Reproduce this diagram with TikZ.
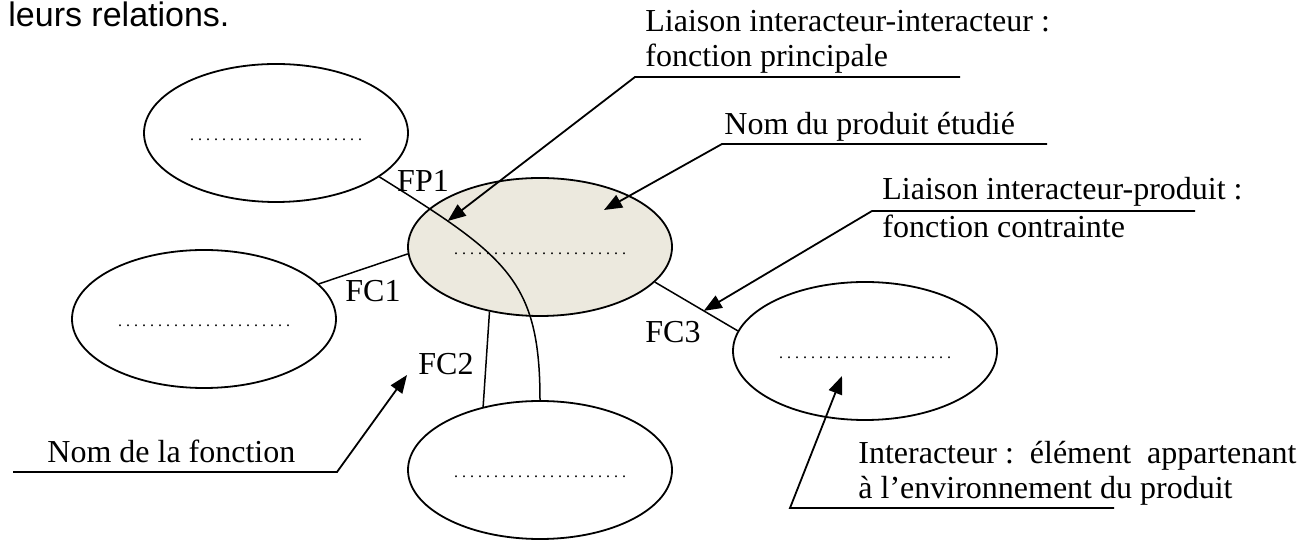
\documentclass[tikz,border=0pt]{standalone}
\usepackage{fontspec}
\setmainfont{Liberation Serif}
\newfontfamily\titrefont{Liberation Sans}
\usetikzlibrary{shapes.geometric,arrows.meta}
\definecolor{produit}{RGB}{236,233,222}
\newcommand{\pointilles}{{\fontsize{8}{8}\selectfont\foreach\i in {1,...,21}{.\kern2pt}.}}

\begin{document}
\begin{tikzpicture}[x=0.5pt,y=0.5pt,
    font=\fontsize{16}{17.5}\selectfont,
    interacteur/.style={ellipse,draw,line width=0.9pt,minimum width=132pt,minimum height=69pt,inner sep=1pt,text height=8pt,text depth=0pt},
    fonction/.style={inner sep=0pt},
    legende/.style={anchor=base west,inner sep=0pt,align=left},
    liaison/.style={line width=0.75pt},
    fleche/.style={line width=0.9pt,{Triangle[length=9pt,width=7pt]}-}]
    \useasboundingbox (0,0) rectangle (1311,540);

    \node[anchor=base west,inner sep=0pt,font=\titrefont\fontsize{17}{20}\selectfont] (titre) at (8,513) {leurs relations.};

    % interacteurs et produit
    \node[interacteur] (E_haut) at (276,407) {\pointilles};
    \node[interacteur] (E_gauche) at (204,221) {\pointilles};
    \node[interacteur,fill=produit] (E_produit) at (540,293) {\pointilles};
    \node[interacteur] (E_bas) at (540,70) {\pointilles};
    \node[interacteur] (E_droite) at (865,189) {\pointilles};

    % fonctions
    \draw[liaison] (E_haut.-23) .. controls +(-32:150) and +(90:120) .. (E_bas.north) coordinate[pos=0.21] (pFP1);
    \draw[liaison] (E_gauche.17) -- (E_produit.183);
    \draw[liaison] (E_produit.232) -- (E_bas.132);
    \draw[liaison] (E_produit.-17) -- (E_droite.171) coordinate[pos=0.59] (pFC3);

    \node[fonction] (FP1) at (423,359) {FP1};
    \node[fonction] (FC1) at (373,249) {FC1};
    \node[fonction] (FC2) at (446,176) {FC2};
    \node[fonction] (FC3) at (673,208) {FC3};

    % legendes (base = derniere ligne)
    \node[legende] (lFP) at (645,473) {Liaison interacteur-interacteur :\\fonction principale};
    \coordinate (uFP1) at (635,463);
    \coordinate (uFP2) at (960,463);
    \draw[fleche] (pFP1) -- (uFP1) -- (uFP2);

    \node[legende] (lProduit) at (724,405) {Nom du produit étudié};
    \coordinate (pProduit) at (604,330);
    \coordinate (uProduit1) at (722,396);
    \coordinate (uProduit2) at (1047,396);
    \draw[fleche] (pProduit) -- (uProduit1) -- (uProduit2);

    \node[legende,font=\fontsize{16}{19}\selectfont] (lFC) at (882,302) {Liaison interacteur-produit :\\fonction contrainte};
    \coordinate (uFC1) at (872,329);
    \coordinate (uFC2) at (1195,329);
    \draw[fleche] (pFC3) -- (uFC1) -- (uFC2);

    \node[legende] (lFonction) at (47,77) {Nom de la fonction};
    \coordinate (pFC2) at (407,165);
    \coordinate (uFonction1) at (337,68);
    \coordinate (uFonction2) at (13,68);
    \draw[fleche] (pFC2) -- (uFonction1) -- (uFonction2);

    \node[legende] (lInteracteur) at (858,41) {Interacteur :\ \ élément\ \ appartenant\\à l’environnement du produit};
    \coordinate (pInteracteur) at (842,164);
    \coordinate (uInteracteur1) at (790,32);
    \coordinate (uInteracteur2) at (1114,32);
    \draw[fleche] (pInteracteur) -- (uInteracteur1) -- (uInteracteur2);
\end{tikzpicture}
\end{document}
